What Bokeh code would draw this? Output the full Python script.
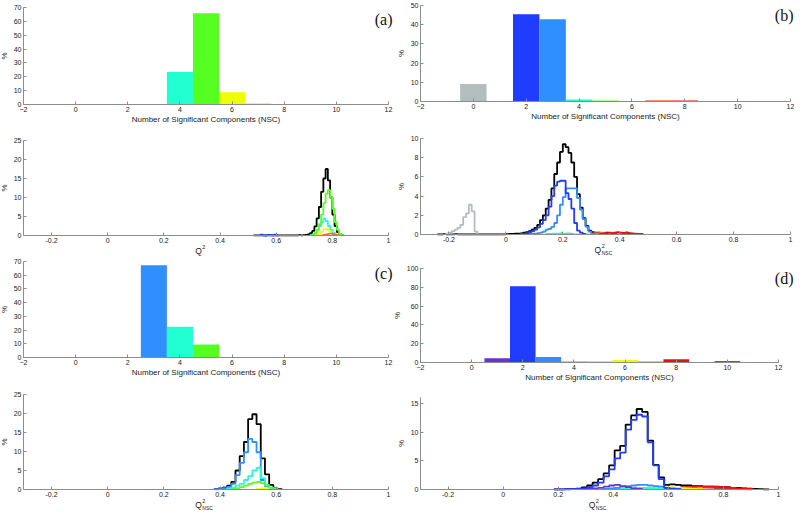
from bokeh.plotting import figure
from bokeh.models import Label, FixedTicker, Range1d
from bokeh.layouts import row, column
from bokeh.embed import file_html
from bokeh.resources import INLINE

FONT = "Liberation Sans"
SERIF = "Liberation Serif"

# ---------------- data ----------------
nsc = [-1, 0, 1, 2, 3, 4, 5, 6, 7, 8, 9, 10, 11]
nsc_colors = ["#6e6e6e", "#b2bebe", "#6a33cc", "#1f3cff", "#2f8fff", "#22ffd0",
              "#55ff22", "#eeff00", "#ff6a3a", "#ee1010", "#e8a0a0", "#a04848", "#d8b8b8"]

hist_a = [0, 0, 0, 0.3, 0, 23.5, 65.8, 8.8, 0.6, 0, 0, 0, 0]
hist_b = [0.2, 9.1, 0, 45.5, 42.8, 1.0, 0.5, 0.3, 0.7, 0.5, 0.2, 0.1, 0]
hist_c = [0, 0, 0, 0.3, 67.2, 22.4, 9.4, 0.4, 0, 0, 0, 0.1, 0]
hist_d = [0, 0.4, 4.6, 81.2, 5.9, 1.3, 1.0, 2.7, 1.0, 3.4, 0.6, 1.6, 0.5]

hist_xticks = [-2, 0, 2, 4, 6, 8, 10, 12]
q_xticks = [-0.2, 0, 0.2, 0.4, 0.6, 0.8, 1]
q_xlabels = ["-0.2", "0", "0.2", "0.4", "0.6", "0.8", "1"]

# (a) Q2 step histograms, bin width 0.008
qa_w = 0.008
qa_all_x0 = 0.52
qa_all = [0.02, 0.05, 0.03, 0.02, 0.03, 0.05, 0.08, 0.05, 0.03, 0.02, 0.02, 0.03,
          0.02, 0.02, 0.03, 0.02, 0.03, 0.05, 0.03, 0.05, 0.08, 0.05, 0.1, 0.15,
          0.3, 0.6, 1.2, 2.4, 4.5, 7.5, 11.5, 15.0, 17.5, 14.5, 10.0, 5.5, 2.5, 0.9, 0.3, 0.1]
qa_n2_x0 = 0.544
qa_n2 = [0.25, 0.05, 0.0, 0.05, 0.1, 0.05, 0.25, 0.05]
qa_n4_x0 = 0.72
qa_n4 = [0.1, 0.3, 0.7, 1.5, 2.5, 3.5, 4.5, 3.8, 2.5, 1.5, 0.7, 0.3, 0.1]
qa_n5_x0 = 0.728
qa_n5 = [0.2, 0.6, 1.5, 3.0, 5.5, 8.5, 11.0, 12.0, 10.0, 7.0, 3.5, 1.5, 0.4, 0.1]
qa_n6_x0 = 0.744
qa_n6 = [0.2, 0.5, 1.0, 1.6, 1.8, 1.3, 0.8, 0.4, 0.1]
qa_n7_x0 = 0.76
qa_n7 = [0.05, 0.15, 0.3, 0.45, 0.5, 0.4, 0.2, 0.1]

# (b) Q2_NSC, bin width 0.01
qb_w = 0.01
qb_all_x0 = -0.24
qb_all = [0.02, 0.02, 0.03, 0.02, 0.02, 0.02, 0.03, 0.02, 0.02, 0.02, 0.02, 0.02,
          0.02, 0.02, 0.02, 0.02, 0.02, 0.02, 0.02, 0.02, 0.02, 0.02, 0.02, 0.02,
          0.03, 0.05, 0.05, 0.08, 0.1, 0.12, 0.2, 0.25, 0.35, 0.5, 0.7, 1.0, 1.5, 2.0,
          2.7, 3.6, 4.8, 6.3, 7.5, 8.6, 9.4, 9.1, 8.5, 7.5, 6.0, 4.2, 2.8, 1.7, 0.9, 0.4,
          0.25, 0.2, 0.2, 0.15, 0.15, 0.2, 0.15, 0.1, 0.15, 0.1, 0.1, 0.15, 0.2, 0.1,
          0.1, 0.05, 0.05, 0.05]
qb_n0_x0 = -0.21
qb_n0 = [0.1, 0.2, 0.35, 0.5, 0.7, 1.0, 1.8, 2.2, 3.1, 2.4, 0.3]
qb_n2_x0 = 0.05
qb_n2 = [0.05, 0.1, 0.15, 0.25, 0.35, 0.5, 0.75, 1.1, 1.5, 2.0, 2.9, 4.0, 5.1,
         5.5, 5.6, 5.6, 4.3, 3.7, 2.7, 1.2, 0.4, 0.2, 0.05]
qb_n3_x0 = 0.06
qb_n3 = [0.03, 0.05, 0.05, 0.08, 0.1, 0.15, 0.2, 0.3, 0.5, 0.6, 0.8, 1.2, 2.0,
         3.1, 3.9, 4.8, 4.8, 4.8, 4.8, 3.8, 2.6, 1.6, 0.8, 0.3, 0.1]
qb_n4_x0 = 0.14
qb_n4 = [0.05, 0.05, 0.1, 0.1, 0.1, 0.15, 0.1, 0.1, 0.1, 0.05, 0.05]
qb_n5_x0 = 0.2
qb_n5 = [0.05, 0.1, 0.1, 0.05, 0.05, 0.05]
qb_n6_x0 = 0.24
qb_n6 = [0.05, 0.1, 0.1, 0.1, 0.05]
qb_n7_x0 = 0.30
qb_n7 = [0.1, 0.15, 0.15, 0.2, 0.15, 0.1, 0.1, 0.15, 0.2, 0.15, 0.1, 0.05]
qb_n8_x0 = 0.33
qb_n8 = [0.05, 0.1, 0.15, 0.2, 0.15, 0.2, 0.25, 0.2, 0.15, 0.2, 0.15, 0.1, 0.1, 0.05, 0.05]

# (c) Q2_NSC, bin width 0.015
qc_w = 0.015
qc_all_x0 = 0.38
qc_all = [0.1, 0.2, 0.5, 1.0, 2.0, 5.0, 8.8, 12.5, 18.5, 19.8, 17.2, 8.2, 4.0, 1.2, 0.3, 0.1]
qc_n2_x0 = 0.38
qc_n2 = [0.1, 0.3, 0.5, 0.3, 0.1]
qc_n3_x0 = 0.38
qc_n3 = [0.05, 0.1, 0.3, 0.7, 1.5, 3.8, 7.0, 9.8, 13.3, 12.5, 9.8, 2.5, 0.8, 0.2]
qc_n4_x0 = 0.425
qc_n4 = [0.2, 0.5, 1.0, 1.5, 2.5, 3.5, 5.0, 5.7, 3.0, 1.2, 0.3]
qc_n5_x0 = 0.44
qc_n5 = [0.1, 0.3, 0.6, 1.0, 1.5, 1.8, 2.0, 1.7, 1.0, 0.5, 0.2]
qc_n6_x0 = 0.53
qc_n6 = [0.1, 0.3, 0.1]

# (d) Q2_NSC, bin width 0.02
qd_w = 0.02
qd_all_x0 = 0.185
qd_all = [0.02, 0.03, 0.05, 0.08, 0.15, 0.35, 0.7, 1.2, 1.8, 2.8, 4.2, 6.8, 7.6, 11.3,
          12.9, 14.0, 13.5, 8.5, 4.3, 2.1, 0.8, 0.9, 0.8, 0.7, 0.7, 0.6, 0.6, 0.5, 0.5,
          0.5, 0.4, 0.4, 0.3, 0.3, 0.2, 0.15, 0.1, 0.05, 0.02]
qd_n1_x0 = 0.305
qd_n1 = [0.1, 0.2, 0.3, 0.5, 0.7, 0.8, 0.6, 0.4, 0.2, 0.1]
qd_n2_x0 = 0.185
qd_n2 = [0.02, 0.03, 0.04, 0.06, 0.1, 0.2, 0.4, 0.7, 1.2, 2.3, 3.5, 5.4, 6.4, 10.4,
         12.1, 13.0, 12.7, 8.2, 4.2, 1.8, 0.3, 0.1, 0.05]
qd_n3_x0 = 0.365
qd_n3 = [0.1, 0.2, 0.3, 0.5, 0.6, 0.7, 0.8, 0.8, 0.7, 0.6, 0.5, 0.3, 0.2, 0.1]
qd_n4_x0 = 0.405
qd_n4 = [0.1, 0.15, 0.2, 0.25, 0.3, 0.3, 0.25, 0.2, 0.1, 0.05]
qd_n5_x0 = 0.465
qd_n5 = [0.1, 0.15, 0.2, 0.2, 0.2, 0.15, 0.1, 0.05]
qd_n6_x0 = 0.525
qd_n6 = [0.1, 0.2, 0.3, 0.35, 0.35, 0.3, 0.25, 0.2, 0.1, 0.05]
qd_n7_x0 = 0.585
qd_n7 = [0.1, 0.15, 0.2, 0.2, 0.15, 0.1, 0.05]
qd_n8_x0 = 0.605
qd_n8 = [0.2, 0.3, 0.35, 0.4, 0.45, 0.5, 0.5, 0.5, 0.45, 0.4, 0.35, 0.3, 0.2, 0.15, 0.1]
qd_n9_x0 = 0.665
qd_n9 = [0.05, 0.1, 0.1, 0.1, 0.05]
qd_n10_x0 = 0.705
qd_n10 = [0.05, 0.1, 0.15, 0.2, 0.2, 0.2, 0.15, 0.1, 0.05, 0.02]

AXC = "#8c8c8c"
TXT = "#222222"
COLW = [394, 400]
ROWH = 128


def base_fig(colidx, rowidx, xspan, xpx, ymax, ypx, xticks, yticks):
    """xpx: window px of (xspan[0], xspan[1]); ypx: window px of (0, ymax)."""
    w = COLW[colidx]
    frame_l = 8 + sum(COLW[:colidx])
    frame_r = frame_l + w
    frame_t = 8 + ROWH * rowidx
    frame_b = frame_t + ROWH
    sx = (xpx[1] - xpx[0]) / (xspan[1] - xspan[0])
    x0 = xspan[0] - (xpx[0] - frame_l) / sx
    x1 = xspan[1] + (frame_r - xpx[1]) / sx
    sy = (ypx[0] - ypx[1]) / ymax
    y1 = ymax + (ypx[1] - frame_t) / sy
    y0 = -(frame_b - ypx[0]) / sy
    p = figure(width=w, height=ROWH, x_range=Range1d(x0, x1), y_range=Range1d(y0, y1),
               output_backend="svg", toolbar_location=None, title=None,
               min_border_left=0, min_border_right=0,
               min_border_top=0, min_border_bottom=0)
    p.outline_line_color = None
    p.xgrid.visible = False
    p.ygrid.visible = False
    p.background_fill_color = "white"
    p.border_fill_color = "white"
    p.xaxis.ticker = FixedTicker(ticks=xticks)
    p.yaxis.ticker = FixedTicker(ticks=yticks)
    p.xaxis.fixed_location = 0
    p.yaxis.fixed_location = xspan[0]
    p.xaxis.bounds = (xspan[0], xspan[1])
    p.yaxis.bounds = (0, ymax)
    for ax in (p.xaxis[0], p.yaxis[0]):
        ax.axis_line_color = AXC
        ax.major_tick_line_color = AXC
        ax.major_tick_in = 3
        ax.major_tick_out = 0
        ax.minor_tick_line_color = None
        ax.major_label_text_font = FONT
        ax.major_label_text_font_size = "7px"
        ax.major_label_text_color = TXT
        ax.major_label_standoff = 2
        ax.axis_label_text_font = FONT
        ax.axis_label_text_font_size = "8px"
        ax.axis_label_text_font_style = "normal"
        ax.axis_label_text_color = TXT
        ax.axis_label_standoff = 2
    p.yaxis.axis_label = "%"
    return p


def hist_fig(colidx, rowidx, xpx, ymax, ypx, yticks, vals, tag, tag_dx, tag_dy):
    p = base_fig(colidx, rowidx, (-2, 12), xpx, ymax, ypx, hist_xticks, yticks)
    p.vbar(x=nsc, top=vals, width=1, fill_color=nsc_colors, line_color=None)
    p.add_layout(Label(x=5, y=0, text="Number of Significant Components (NSC)",
                       text_align="center", text_baseline="top", y_offset=-10,
                       text_font=FONT, text_font_size="8px", text_color=TXT))
    p.add_layout(Label(x=12, y=ymax, text=tag, text_align="right", text_baseline="top",
                       x_offset=tag_dx, y_offset=tag_dy, text_font=SERIF,
                       text_font_size="16px", text_color="#111111"))
    return p


def stairs(p, x0, w, vals, color, lw=1.8):
    edges = [x0 + i * w for i in range(len(vals) + 1)]
    xs = [edges[0]] + edges
    ys = [0] + list(vals) + [0]
    p.step(xs, ys, mode="after", line_color=color, line_width=lw)


def q_fig(colidx, rowidx, xpx, ymax, ypx, yticks, sub):
    p = base_fig(colidx, rowidx, (-0.3, 1), xpx, ymax, ypx, q_xticks, yticks)
    p.xaxis.major_label_overrides = {t: s for t, s in zip(q_xticks, q_xlabels)}
    cx = 0.335
    p.add_layout(Label(x=cx, y=0, text="Q", text_align="right", text_baseline="top",
                       y_offset=-10.5, text_font=FONT, text_font_size="8.5px",
                       text_color=TXT))
    p.add_layout(Label(x=cx, y=0, text="2", text_align="left", text_baseline="top",
                       x_offset=0.5, y_offset=-9, text_font=FONT, text_font_size="5.5px",
                       text_color=TXT))
    if sub:
        p.add_layout(Label(x=cx, y=0, text="NSC", text_align="left", text_baseline="top",
                           x_offset=0.5, y_offset=-15.5, text_font=FONT,
                           text_font_size="5px", text_color=TXT))
    return p


col = dict((k, c) for k, c in zip(nsc, nsc_colors))

# ----- left column -----
a1 = hist_fig(0, 0, (31, 396), 70, (112, 15), [0, 10, 20, 30, 40, 50, 60, 70], hist_a,
              "(a)", 4, -3)
a2 = q_fig(0, 1, (31, 396), 25, (243, 148), [0, 5, 10, 15, 20, 25], False)
stairs(a2, qa_all_x0, qa_w, qa_all, "#000000")
stairs(a2, qa_n2_x0, qa_w, qa_n2, col[2])
stairs(a2, qa_n4_x0, qa_w, qa_n4, col[4])
stairs(a2, qa_n5_x0, qa_w, qa_n5, col[5])
stairs(a2, qa_n6_x0, qa_w, qa_n6, col[6])
stairs(a2, qa_n7_x0, qa_w, qa_n7, col[7])

c1 = hist_fig(0, 2, (31, 396), 70, (365, 269), [0, 10, 20, 30, 40, 50, 60, 70], hist_c,
              "(c)", 4, -3)
c2 = q_fig(0, 3, (31, 396), 25, (497, 402), [0, 5, 10, 15, 20, 25], True)
stairs(c2, qc_all_x0, qc_w, qc_all, "#000000")
stairs(c2, qc_n2_x0, qc_w, qc_n2, col[2])
stairs(c2, qc_n3_x0, qc_w, qc_n3, col[3])
stairs(c2, qc_n4_x0, qc_w, qc_n4, col[4])
stairs(c2, qc_n5_x0, qc_w, qc_n5, col[5])
stairs(c2, qc_n6_x0, qc_w, qc_n6, col[6])

# ----- right column -----
b1 = hist_fig(1, 0, (428, 798), 50, (109, 13), [0, 10, 20, 30, 40, 50], hist_b,
              "(b)", 3, -1)
b2 = q_fig(1, 1, (428, 798), 10, (242, 146), [0, 2, 4, 6, 8, 10], True)
stairs(b2, qb_all_x0, qb_w, qb_all, "#000000")
stairs(b2, qb_n0_x0, qb_w, qb_n0, col[0])
stairs(b2, qb_n4_x0, qb_w, qb_n4, col[4])
stairs(b2, qb_n5_x0, qb_w, qb_n5, col[5])
stairs(b2, qb_n6_x0, qb_w, qb_n6, col[6])
stairs(b2, qb_n7_x0, qb_w, qb_n7, col[7])
stairs(b2, qb_n8_x0, qb_w, qb_n8, col[8])
stairs(b2, qb_n3_x0, qb_w, qb_n3, col[3])
stairs(b2, qb_n2_x0, qb_w, qb_n2, col[2])

d1 = hist_fig(1, 2, (428, 786), 100, (370, 276), [0, 20, 40, 60, 80, 100], hist_d,
              "(d)", 15, -1)
d2 = q_fig(1, 3, (428, 786), 16, (497, 405), [0, 5, 10, 15], True)
stairs(d2, qd_all_x0, qd_w, qd_all, "#000000")
stairs(d2, qd_n10_x0, qd_w, qd_n10, col[10])
stairs(d2, qd_n9_x0, qd_w, qd_n9, col[9])
stairs(d2, qd_n8_x0, qd_w, qd_n8, col[8])
stairs(d2, qd_n7_x0, qd_w, qd_n7, col[7])
stairs(d2, qd_n6_x0, qd_w, qd_n6, col[6])
stairs(d2, qd_n5_x0, qd_w, qd_n5, col[5])
stairs(d2, qd_n4_x0, qd_w, qd_n4, col[4])
stairs(d2, qd_n3_x0, qd_w, qd_n3, col[3])
stairs(d2, qd_n1_x0, qd_w, qd_n1, col[1])
stairs(d2, qd_n2_x0, qd_w, qd_n2, col[2])

layout = row(column(a1, a2, c1, c2), column(b1, b2, d1, d2))

open("out.html", "w").write(file_html(layout, INLINE))
